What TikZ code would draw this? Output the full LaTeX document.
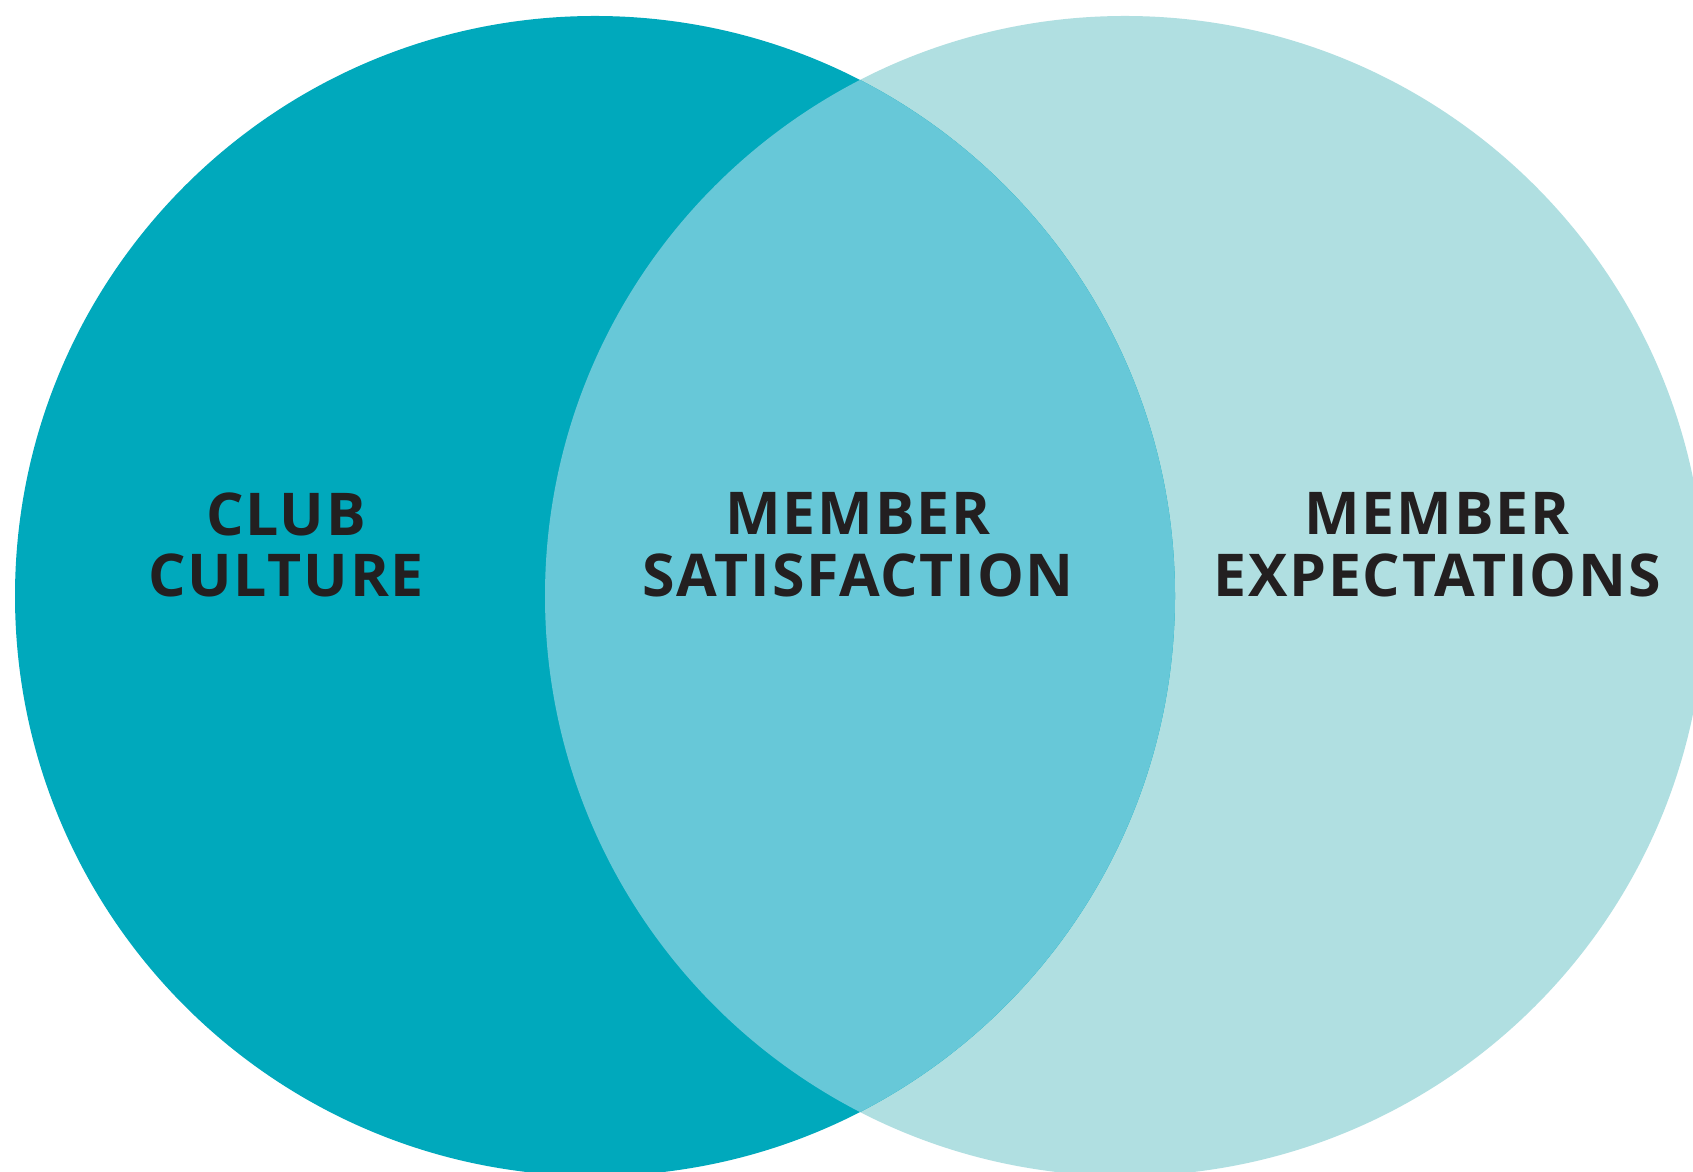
\documentclass[tikz,border=0pt]{standalone}
\usepackage{xcolor}
\usepackage{fontspec}
\usepackage{tikz}
\newfontfamily\labelfont{Open Sans}[LetterSpace=3]
\definecolor{cultureteal}{HTML}{00A9BC}
\definecolor{overlapteal}{HTML}{67C8D8}
\definecolor{expectteal}{HTML}{B0DFE1}
\definecolor{labelink}{HTML}{231F20}
\tikzset{
  venntext/.style={align=center, text=labelink, inner sep=0pt,
    font=\labelfont\bfseries\fontsize{29.5}{30.8}\selectfont}
}

\begin{document}
\begin{tikzpicture}[x=0.5pt,y=0.5pt]
\clip (0,0) rectangle (1693,1172);
\fill[white] (0,0) rectangle (1693,1172);
\fill[expectteal] (1125,576) circle[radius=580];
\fill[cultureteal] (595,576) circle[radius=580];
\begin{scope}
\clip (595,576) circle[radius=580];
\fill[overlapteal] (1125,576) circle[radius=580];
\end{scope}
\node at (286,627) (culture) [venntext] {CLUB\\CULTURE};
\node at (858,627) (satisfaction) [venntext] {MEMBER\\SATISFACTION};
\node at (1437,627) (expectations) [venntext] {MEMBER\\EXPECTATIONS};
\end{tikzpicture}
\end{document}
